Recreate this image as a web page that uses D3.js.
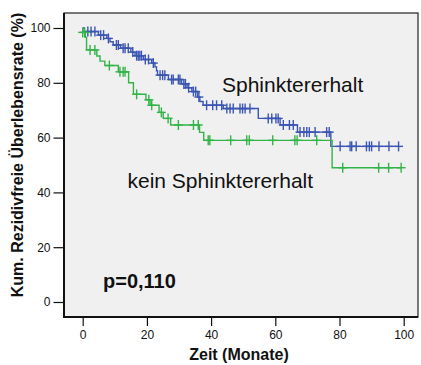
<!DOCTYPE html>
<html>
<head>
<meta charset="utf-8">
<script src="https://cdn.jsdelivr.net/npm/d3@7"></script>
<style>
  html, body { margin: 0; padding: 0; background: #ffffff; }
  svg { display: block; }
  text { font-family: "Liberation Sans", Arial, Helvetica, sans-serif; fill: #111; }
</style>
</head>
<body>
<svg id="chart" width="421" height="365"></svg>
<script>
// Kaplan-Meier: rezidivfreies Überleben nach Sphinktererhalt
const xTicks = [0, 20, 40, 60, 80, 100];
const yTicks = [0, 20, 40, 60, 80, 100];

// Sphinktererhalt: Ereigniszeitpunkte (Monate) und Überlebensrate danach (%)
const sphTime = [0, 0.5, 4.9, 7.5, 8.5, 9.5, 11.8, 15.0, 16.3, 18.9, 21.5, 22.5, 23.0, 23.3, 26.7, 30.8, 32.5, 34.0, 35.8, 36.5, 37.5, 43.8, 54.7, 61.5, 66.9, 77.3];
const sphSurv = [100, 98.7, 97.4, 96.2, 95.0, 93.8, 92.6, 91.2, 89.9, 88.5, 87.2, 85.8, 84.4, 82.8, 81.2, 79.6, 78.2, 76.8, 74.8, 73.2, 71.8, 70.6, 67.0, 64.6, 62.0, 56.8];
// zensierte Fälle (Monate)
const sphCensor = [1.6, 2.6, 3.8, 5.6, 6.5, 8.0, 10.5, 11.1, 12.6, 13.2, 14.2, 15.6, 16.8, 17.3, 17.8, 18.3, 19.5, 20.5, 22.0, 24.1, 24.9, 25.6, 27.7, 28.2, 29.8, 30.3, 31.5, 32.0, 33.0, 34.5, 35.2, 36.2, 38.6, 40.5, 41.7, 43.3, 44.9, 45.9, 46.9, 49.0, 49.8, 50.6, 52.1, 57.8, 58.9, 60.2, 60.9, 62.5, 64.4, 65.6, 67.7, 68.9, 69.8, 70.6, 72.4, 76.0, 76.8, 80.2, 83.3, 83.8, 85.2, 88.4, 89.3, 90.0, 92.3, 95.4, 98.4];

// kein Sphinktererhalt
const keinTime = [0, 0.8, 1.2, 4.4, 5.4, 6.9, 11.1, 14.3, 15.8, 19.7, 21.0, 23.8, 25.1, 27.4, 36.4, 37.7, 77.7];
const keinSurv = [98.4, 96.6, 92.0, 89.8, 87.9, 86.3, 84.0, 80.0, 75.8, 73.8, 71.8, 69.2, 67.0, 64.6, 61.9, 59.0, 49.0];
const keinCensor = [0, 0.6, 2.3, 3.8, 8.3, 11.6, 12.6, 13.2, 16.8, 20.6, 21.5, 24.5, 26.6, 29.8, 34.5, 36.0, 39.1, 39.6, 46.1, 51.1, 51.9, 59.2, 66.1, 66.8, 72.9, 81.0, 92.2, 95.3, 99.2];

const groups = [
  { name: "Sphinktererhalt", time: sphTime, surv: sphSurv, censor: sphCensor, color: "#3b55b2" },
  { name: "kein Sphinktererhalt", time: keinTime, surv: keinSurv, censor: keinCensor, color: "#33b449" }
];

const svg = d3.select("#chart");
const frame = { left: 64, top: 13, right: 418, bottom: 317 };

const x = d3.scaleLinear().domain([0, 100]).range([82.7, 403.7]);
const y = d3.scaleLinear().domain([0, 100]).range([302, 28]);

// plot area
svg.append("rect")
  .attr("x", frame.left).attr("y", frame.top)
  .attr("width", frame.right - frame.left).attr("height", frame.bottom - frame.top)
  .attr("fill", "#f0f0f0").attr("stroke", "#222").attr("stroke-width", 1.2);

// axes
const yAxis = svg.append("g")
  .attr("transform", `translate(${frame.left},0)`)
  .call(d3.axisLeft(y).tickValues(yTicks).tickSize(10.5).tickPadding(3).tickSizeOuter(0));
const xAxis = svg.append("g")
  .attr("transform", `translate(0,${frame.bottom})`)
  .call(d3.axisBottom(x).tickValues(xTicks).tickSize(9).tickPadding(4).tickSizeOuter(0));

[yAxis, xAxis].forEach(g => {
  g.select(".domain").remove();
  g.selectAll(".tick line").attr("stroke", "#111").attr("stroke-width", 1.2);
  g.selectAll(".tick text").attr("font-size", 12).attr("fill", "#111")
    .style("font-family", '"Liberation Sans", Arial, sans-serif');
});

// heavier left and bottom frame lines
svg.append("line").attr("x1", frame.left).attr("x2", frame.left)
  .attr("y1", frame.top).attr("y2", frame.bottom + 1)
  .attr("stroke", "#111").attr("stroke-width", 2);
svg.append("line").attr("x1", frame.left - 1).attr("x2", frame.right)
  .attr("y1", frame.bottom).attr("y2", frame.bottom)
  .attr("stroke", "#111").attr("stroke-width", 2);

// survival value at time t (step function)
function survAt(g, t) {
  let s = g.surv[0];
  for (let i = 0; i < g.time.length; i++) if (g.time[i] <= t) s = g.surv[i];
  return s;
}

const stepLine = d3.line()
  .x(d => x(d[0])).y(d => y(d[1]))
  .curve(d3.curveStepAfter);

const arm = 4.5;
groups.forEach(g => {
  const pts = g.time.map((t, i) => [t, g.surv[i]]);
  const tEnd = d3.max(g.censor);
  pts.push([tEnd, survAt(g, tEnd)]);
  svg.append("path")
    .attr("d", stepLine(pts))
    .attr("fill", "none").attr("stroke", g.color).attr("stroke-width", 1.4);

  const marks = svg.append("g").attr("stroke", g.color).attr("stroke-width", 1.4);
  g.censor.forEach(t => {
    const cx = x(t), cy = y(survAt(g, t));
    marks.append("line").attr("x1", cx).attr("x2", cx).attr("y1", cy - arm - 0.5).attr("y2", cy + arm + 0.5);
    marks.append("line").attr("x1", cx - arm).attr("x2", cx + arm).attr("y1", cy).attr("y2", cy);
  });
});

// labels
svg.append("text").attr("x", 222).attr("y", 92.3)
  .attr("font-size", 21).text("Sphinktererhalt");
svg.append("text").attr("x", 127.5).attr("y", 188.3)
  .attr("font-size", 21).text("kein Sphinktererhalt");
svg.append("text").attr("x", 103).attr("y", 288.3)
  .attr("font-size", 20).attr("font-weight", "bold").text("p=0,110");

// axis titles
svg.append("text").attr("x", 239).attr("y", 360)
  .attr("text-anchor", "middle").attr("font-size", 16).attr("font-weight", "bold")
  .text("Zeit (Monate)");
svg.append("text")
  .attr("transform", "translate(23,155) rotate(-90)")
  .attr("text-anchor", "middle").attr("font-size", 16).attr("font-weight", "bold")
  .text("Kum. Rezidivfreie Überlebensrate (%)");
</script>
</body>
</html>
